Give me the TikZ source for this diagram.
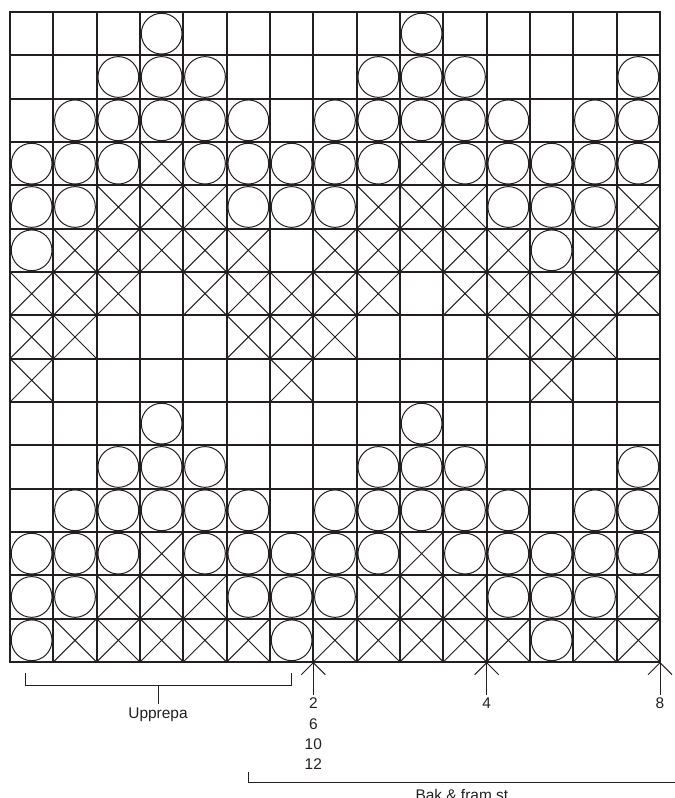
\documentclass[tikz,border=0pt]{standalone}
\usepackage{fontspec}
\setmainfont{Liberation Sans}
\usepackage{tikz}
\usetikzlibrary{arrows.meta,positioning}
\definecolor{linje}{HTML}{231F20}
\tikzset{
  rut/.style={draw=linje,line width=1.8bp,line cap=rect},
  mask/.style={draw=linje,line width=1bp},
  pil/.style={-{Straight Barb[length=12bp,width=24bp]},line width=1bp,linje},
  klamm/.style={line width=1bp,linje},
  etikett/.style={font=\fontsize{15.5}{18}\selectfont,text=linje,inner sep=3bp}
}
\begin{document}
\begin{tikzpicture}[x=1bp,y=-1bp]
\useasboundingbox (0,0) rectangle (675,798);
% diagram, 15 x 15 rutor
\begin{scope}[shift={(10,12)},x=43.33bp,y=-43.33bp]
\foreach \r/\cols in {1/{4,10},2/{3,4,5,9,10,11,15},3/{2,3,4,5,6,8,9,10,11,12,14,15},
  4/{1,2,3,5,6,7,8,9,11,12,13,14,15},5/{1,2,6,7,8,12,13,14},6/{1,13},
  10/{4,10},11/{3,4,5,9,10,11,15},12/{2,3,4,5,6,8,9,10,11,12,14,15},
  13/{1,2,3,5,6,7,8,9,11,12,13,14,15},14/{1,2,6,7,8,12,13,14},15/{1,7,13}}
  \foreach \c in \cols {\draw[mask] (\c-.5,\r-.5) circle (.47);}
\foreach \r/\cols in {4/{4,10},5/{3,4,5,9,10,11,15},6/{2,3,4,5,6,8,9,10,11,12,14,15},
  7/{1,2,3,5,6,7,8,9,11,12,13,14,15},8/{1,2,6,7,8,12,13,14},9/{1,7,13},
  13/{4,10},14/{3,4,5,9,10,11,15},15/{2,3,4,5,6,8,9,10,11,12,14,15}}
  \foreach \c in \cols {\draw[mask] (\c-1,\r-1) -- (\c,\r) (\c,\r-1) -- (\c-1,\r);}
\foreach \i in {0,...,15} {\draw[rut] (\i,0) -- (\i,15); \draw[rut] (0,\i) -- (15,\i);}
\end{scope}
% pilar och storlekar
\coordinate (s7) at (313.3,662); \coordinate (s11) at (486.7,662); \coordinate (s15) at (660,662);
\node[etikett] (n2) at (313.3,703.5) {2};
\node[etikett] (n6) at (313.3,724) {6};
\node[etikett] (n10) at (313.3,744) {10};
\node[etikett] (n12) at (313.3,764) {12};
\node[etikett] (n4) at (486.7,703.5) {4};
\node[etikett] (n8) at (660,703.5) {8};
\draw[pil] (n2) -- (s7);
\draw[pil] (n4) -- (s11);
\draw[pil] (n8) -- (s15);
% klamrar
\coordinate (uv) at (25,673); \coordinate (uh) at (291,673); \coordinate (um) at (158,685);
\node[etikett,anchor=base] (upp) at (158,718) {Upprepa};
\draw[klamm] (uv) -- ++(0,12) -| (uh);
\draw[klamm] (um) -- (upp);
\coordinate (bv) at (248,772); \coordinate (bh) at (680,782);
\draw[klamm] (bv) |- (bh);
\node[etikett,anchor=base] (bak) at (464,800) {Bak \& fram st.};
\end{tikzpicture}
\end{document}
